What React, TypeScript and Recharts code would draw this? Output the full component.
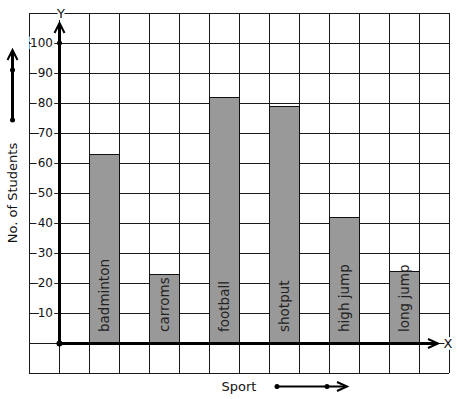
import React from "react";
import {
  BarChart,
  Bar,
  XAxis,
  YAxis,
  CartesianGrid,
  LabelList,
} from "recharts";

const SPORTS = ["badminton", "carroms", "football", "shotput", "high jump", "long jump"];
const STUDENTS = [63, 23, 82, 79, 42, 24];
const Y_TICKS = [-10, 0, 10, 20, 30, 40, 50, 60, 70, 80, 90, 100, 110];
const Y_LABELED = [10, 20, 30, 40, 50, 60, 70, 80, 90, 100];

// 14 grid columns: one empty slot before the y axis, then sport / gap pairs
const SLOT_COUNT = 14;
const data = Array.from({ length: SLOT_COUNT }, (_, i) => {
  const k = (i - 2) / 2;
  const isBar = i >= 2 && i % 2 === 0 && k < SPORTS.length;
  return {
    slot: `s${i}`,
    sport: isBar ? SPORTS[k] : "",
    students: isBar ? STUDENTS[k] : null,
  };
});

const FONT = "'DejaVu Sans', sans-serif";
const W = 457;
const H = 399;

function YTick({ x, y, payload }: any) {
  if (!Y_LABELED.includes(payload.value)) return null;
  return (
    <text
      x={x + 24}
      y={y}
      textAnchor="end"
      dominantBaseline="central"
      fontFamily={FONT}
      fontSize={12}
      fill="#111"
      stroke="#fff"
      strokeWidth={4}
      paintOrder="stroke"
    >
      {payload.value}
    </text>
  );
}

function BarText({ x, y, width, height, value }: any) {
  if (!value) return null;
  const cx = x + width / 2 + 5;
  const by = y + height - 11;
  return (
    <text
      x={cx}
      y={by}
      transform={`rotate(-90 ${cx} ${by})`}
      textAnchor="start"
      fontFamily={FONT}
      fontSize={13.5}
      fill="#222"
    >
      {value}
    </text>
  );
}

function Overlay() {
  return (
    <svg
      width={W}
      height={H}
      style={{ position: "absolute", left: 0, top: 0, pointerEvents: "none" }}
    >
      {/* y axis */}
      <line x1={59.5} y1={344} x2={59.5} y2={25} stroke="#000" strokeWidth={3} />
      <polyline points="54.5,33 59.5,23 64.5,33" fill="none" stroke="#000" strokeWidth={2} />
      <circle cx={59.5} cy={43} r={2.5} fill="#000" />
      {/* x axis */}
      <line x1={58} y1={343.5} x2={437} y2={343.5} stroke="#000" strokeWidth={3} />
      <polyline points="428,339 438,343.5 428,348" fill="none" stroke="#000" strokeWidth={2} />
      <circle cx={59.5} cy={343.5} r={3} fill="#000" />
      <text x={61} y={13} textAnchor="middle" dominantBaseline="central" fontFamily={FONT}
        fontSize={13} fill="#111" stroke="#fff" strokeWidth={4} paintOrder="stroke">Y</text>
      <text x={448} y={343} textAnchor="middle" dominantBaseline="central" fontFamily={FONT}
        fontSize={13} fill="#111" stroke="#fff" strokeWidth={4} paintOrder="stroke">X</text>
      {/* direction hint left */}
      <line x1={12.5} y1={120} x2={12.5} y2={51} stroke="#000" strokeWidth={3} />
      <polyline points="7.5,60 12.5,50 17.5,60" fill="none" stroke="#000" strokeWidth={2} />
      <circle cx={12.5} cy={70} r={2.5} fill="#000" />
      <circle cx={12.5} cy={120} r={2.5} fill="#000" />
      {/* direction hint bottom */}
      <line x1={277} y1={386.5} x2={345} y2={386.5} stroke="#000" strokeWidth={2} />
      <polyline points="337,382 347,386.5 337,391" fill="none" stroke="#000" strokeWidth={2} />
      <circle cx={277} cy={386.5} r={2.5} fill="#000" />
      <circle cx={327} cy={386.5} r={2.5} fill="#000" />
    </svg>
  );
}

export default function App() {
  return (
    <div style={{ position: "absolute", left: 0, top: 0, width: W, height: H, background: "#fff" }}>
      <BarChart
        width={W}
        height={H}
        data={data}
        margin={{ top: 13, right: 8, left: 0, bottom: 0 }}
        barCategoryGap={0}
        style={{ fontFamily: FONT }}
      >
        <CartesianGrid
          stroke="#1a1a1a"
          strokeWidth={1}
          shapeRendering="crispEdges"
          verticalCoordinatesGenerator={({ offset }: any) =>
            Array.from({ length: SLOT_COUNT + 1 }, (_, i) => offset.left + (i * offset.width) / SLOT_COUNT)
          }
        />
        <XAxis
          dataKey="slot"
          height={26}
          tick={false}
          tickLine={false}
          axisLine={false}
          label={{ value: "Sport", position: "center", fontFamily: FONT, fontSize: 13, fill: "#111" }}
        />
        <YAxis
          type="number"
          domain={[-10, 110]}
          ticks={Y_TICKS}
          interval={0}
          width={29}
          tickSize={0}
          tickMargin={0}
          tickLine={false}
          axisLine={false}
          tick={<YTick />}
          label={{
            value: "No. of Students",
            angle: -90,
            position: "center",
            dx: -2,
            fontFamily: FONT,
            fontSize: 13,
            fill: "#111",
          }}
        />
        <Bar
          dataKey="students"
          fill="#999999"
          stroke="#111"
          strokeWidth={1}
          shapeRendering="crispEdges"
          isAnimationActive={false}
        >
          <LabelList dataKey="sport" content={<BarText />} />
        </Bar>
      </BarChart>
      <Overlay />
    </div>
  );
}
